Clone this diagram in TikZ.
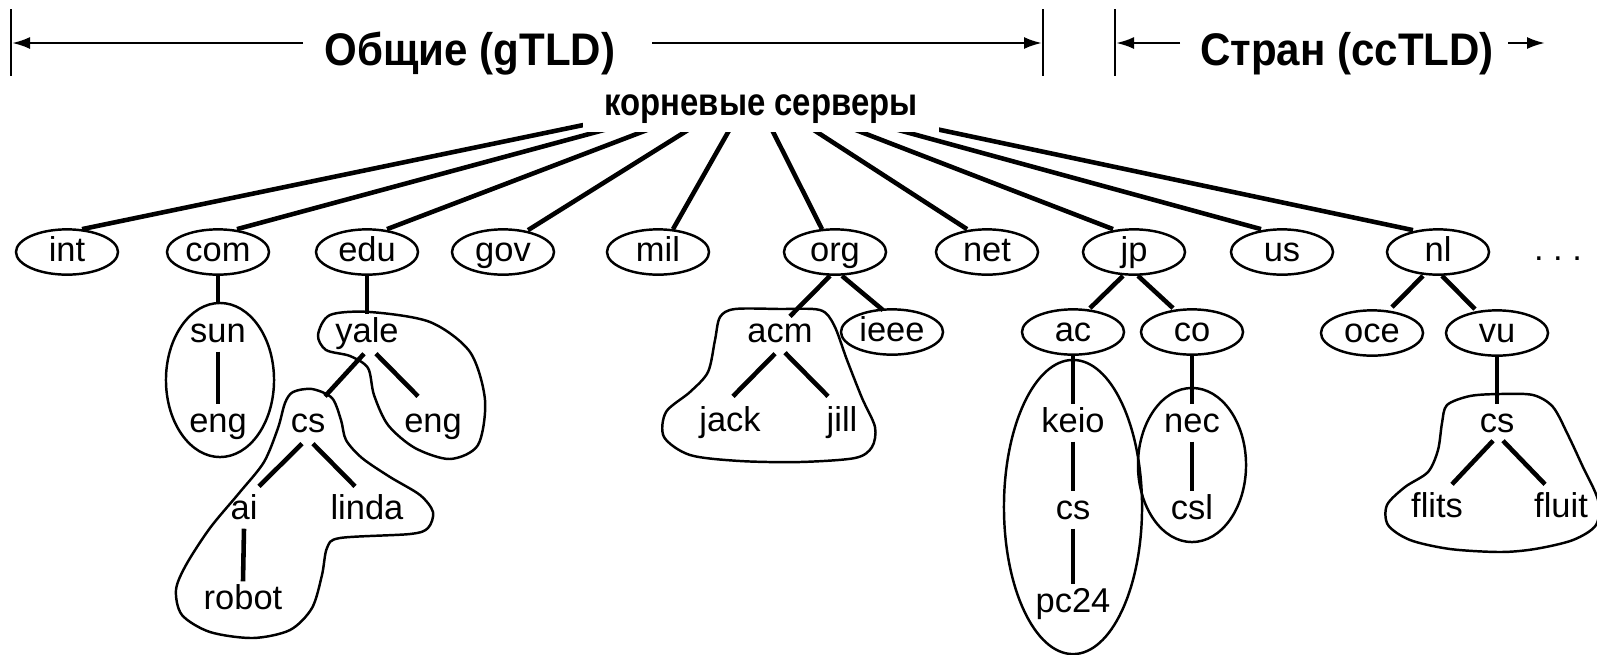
\documentclass[tikz,border=0pt]{standalone}
\usepackage{fontspec}
\setmainfont{Liberation Sans}
\usepackage{tikz}
\usetikzlibrary{shapes.geometric,calc,arrows.meta}
\tikzstyle{dom} = [ellipse,draw,line width=0.7pt,minimum width=1.02cm,minimum height=0.45cm,inner sep=0pt,text height=0.25cm,text depth=0.07cm,font=\fontsize{9.8}{11}\selectfont]
\tikzstyle{lbl} = [inner xsep=0.03cm,inner ysep=0.02cm,text height=0.25cm,text depth=0.07cm,font=\fontsize{9.8}{11}\selectfont]
\tikzstyle{edge} = [line width=1.3pt]
\tikzstyle{zone} = [line width=0.7pt]
\tikzstyle{hdr} = [font=\fontsize{13}{15}\selectfont\bfseries,xscale=0.92,anchor=base,inner sep=0pt]
\tikzstyle{arr} = [line width=0.7pt,-{Latex[length=0.18cm,width=0.12cm]}]

\begin{document}
\begin{tikzpicture}[x=0.01cm,y=-0.01cm]
          \useasboundingbox (0,0) rectangle (1597,654);
          % header
          \draw [zone] (11,9) -- (11,76);
          \draw [zone] (1043,9) -- (1043,76);
          \draw [zone] (1115,9) -- (1115,76);
          \node[hdr] (gtld) at (470,65) {Общие (gTLD)};
          \node[hdr] (cctld) at (1347,65) {Стран (ccTLD)};
          \coordinate (ga) at (303,43);
          \coordinate (gl) at (12,43);
          \coordinate (gb) at (652,43);
          \coordinate (gr) at (1042,43);
          \coordinate (ca) at (1180,43);
          \coordinate (cl) at (1116,43);
          \coordinate (cb) at (1508,43);
          \coordinate (cr) at (1545,43);
          \draw [arr] (ga) -- (gl);
          \draw [arr] (gb) -- (gr);
          \draw [arr] (ca) -- (cl);
          \draw [arr] (cb) -- (cr);

          % top level domains
          \coordinate (hub) at (752,90);
          \node[dom] (int) at (67,252) {int};
          \node[dom] (com) at (218,252) {com};
          \node[dom] (edu) at (367,252) {edu};
          \node[dom] (gov) at (503,252) {gov};
          \node[dom] (mil) at (658,252) {mil};
          \node[dom] (org) at (835,252) {org};
          \node[dom] (net) at (987,252) {net};
          \node[dom] (jp) at (1134,252) {jp};
          \node[dom] (us) at (1282,252) {us};
          \node[dom] (nl) at (1438,252) {nl};
          \node[lbl,anchor=base] (more) at (1558,260) {.\ .\ .};
          \draw [edge] (hub) -- ($(int.north)+(15,1)$);
          \draw [edge] (hub) -- ($(com.north)+(19,1)$);
          \draw [edge] (hub) -- ($(edu.north)+(20,1)$);
          \draw [edge] (hub) -- ($(gov.north)+(25,2)$);
          \draw [edge] (hub) -- ($(mil.north)+(15,1)$);
          \draw [edge] (hub) -- ($(org.north)+(-13,1)$);
          \draw [edge] (hub) -- ($(net.north)+(-20,1)$);
          \draw [edge] (hub) -- ($(jp.north)+(-21,1)$);
          \draw [edge] (hub) -- ($(us.north)+(-21,1)$);
          \draw [edge] (hub) -- ($(nl.north)+(-25,2)$);
          \node[font=\fontsize{11}{13}\selectfont\bfseries,xscale=0.85,fill=white,inner xsep=0.25cm,inner ysep=0.09cm,anchor=base] (root) at (761,115) {корневые серверы};

          % com, edu
          \node[lbl] (sun) at (218,333) {sun};
          \node[lbl] (engc) at (218,423) {eng};
          \draw [zone] (220,380) ellipse [x radius=0.54cm, y radius=0.77cm];
          \draw [edge,shorten >=0.12cm] (com.south) -- (sun.north);
          \draw [edge] (sun.south) -- (engc.north);
          \node[lbl] (yale) at (367,333) {yale};
          \node[lbl] (yalecs) at (308,423) {cs};
          \node[lbl] (engy) at (433,423) {eng};
          \node[lbl] (ai) at (244,510) {ai};
          \node[lbl] (linda) at (367,510) {linda};
          \node[lbl] (robot) at (243,600) {robot};
          \draw [edge] (edu.south) -- (yale.north);
          \draw [edge] ($(yale.south)+(-3,2)$) -- ($(yalecs.north)+(17,-8)$);
          \draw [edge] ($(yale.south)+(9,2)$) -- ($(engy.north)+(-15,-8)$);
          \draw [edge] ($(yalecs.south)+(-6,2)$) -- ($(ai.north)+(15,-5)$);
          \draw [edge] ($(yalecs.south)+(5,2)$) -- ($(linda.north)+(-12,-5)$);
          \draw [edge] (ai.south) -- (robot.north);
          \draw [zone] plot [smooth cycle] coordinates {(318,335) (330,315) (370,312) (430,322) (470,352) (485,400) (478,445) (450,459) (415,448) (388,425) (374,395) (368,368) (350,356) (326,350)};
          \draw [zone] plot [smooth cycle] coordinates {(293,392) (312,389) (332,398) (341,420) (346,440) (362,458) (390,477) (420,495) (433,512) (428,528) (410,534) (340,538) (327,548) (322,575) (312,608) (290,630) (253,638) (210,632) (182,615) (176,590) (186,565) (210,528) (240,492) (264,462) (278,428) (285,403)};

          % org
          \node[lbl] (acm) at (780,333) {acm};
          \node[dom] (ieee) at (892,332) {ieee};
          \node[lbl] (jack) at (730,422) {jack};
          \node[lbl] (jill) at (842,422) {jill};
          \draw [edge] ($(org.south)+(-5,0)$) -- ($(acm.north)+(10,2)$);
          \draw [edge] ($(org.south)+(7,0)$) -- ($(ieee.north)+(-9,2)$);
          \draw [edge] ($(acm.south)+(-5,2)$) -- ($(jack.north)+(3,-7)$);
          \draw [edge] ($(acm.south)+(5,1)$) -- ($(jill.north)+(-14,-7)$);
          \draw [zone] plot [smooth cycle] coordinates {(720,317) (735,309) (780,309) (820,310) (834,325) (847,360) (862,398) (875,427) (872,447) (855,458) (800,462) (740,461) (690,455) (664,437) (666,412) (690,392) (708,372) (715,340)};

          % jp
          \node[dom] (ac) at (1073,332) {ac};
          \node[dom] (co) at (1192,332) {co};
          \node[lbl] (keio) at (1073,423) {keio};
          \node[lbl] (keiocs) at (1073,510) {cs};
          \node[lbl] (pc24) at (1073,603) {pc24};
          \node[lbl] (nec) at (1192,423) {nec};
          \node[lbl] (csl) at (1192,510) {csl};
          \draw [edge] ($(jp.south)+(-11,0)$) -- ($(ac.north)+(17,0)$);
          \draw [edge] ($(jp.south)+(4,0)$) -- ($(co.north)+(-19,0)$);
          \draw [edge] (ac.south) -- (keio.north);
          \draw [edge] (keio.south) -- (keiocs.north);
          \draw [edge] (keiocs.south) -- (pc24.north);
          \draw [edge] (co.south) -- (nec.north);
          \draw [edge] (nec.south) -- (csl.north);
          \draw [zone] (1073,507) ellipse [x radius=0.69cm, y radius=1.47cm];
          \draw [zone] (1192,465) ellipse [x radius=0.54cm, y radius=0.77cm];

          % nl
          \node[dom] (oce) at (1372,333) {oce};
          \node[dom] (vu) at (1497,333) {vu};
          \node[lbl] (vucs) at (1497,423) {cs};
          \node[lbl] (flits) at (1437,508) {flits};
          \node[lbl] (fluit) at (1561,508) {fluit};
          \draw [edge] ($(nl.south)+(-15,0)$) -- ($(oce.north)+(20,-2)$);
          \draw [edge] ($(nl.south)+(4,0)$) -- ($(vu.north)+(-22,0)$);
          \draw [edge] (vu.south) -- (vucs.north);
          \draw [edge] ($(vucs.south)+(-4,-1)$) -- ($(flits.north)+(15,-5)$);
          \draw [edge] ($(vucs.south)+(6,-1)$) -- ($(fluit.north)+(-16,-5)$);
          \draw [zone] plot [smooth cycle] coordinates {(1442,423) (1447,405) (1470,396) (1500,394) (1533,395) (1553,407) (1568,435) (1582,465) (1598,500) (1596,525) (1573,540) (1535,549) (1500,552) (1450,549) (1410,540) (1388,525) (1387,505) (1405,487) (1428,472) (1438,450)};
\end{tikzpicture}
\end{document}
